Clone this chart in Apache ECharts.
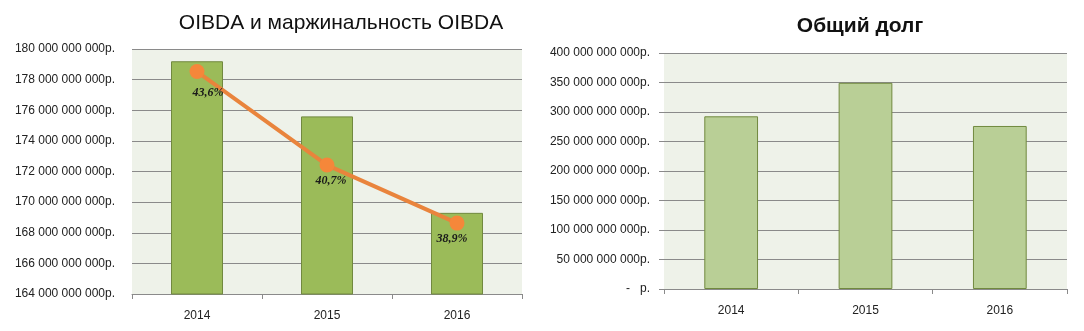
<!DOCTYPE html>
<html>
<head>
<meta charset="utf-8">
<script src="https://cdn.jsdelivr.net/npm/echarts@6/dist/echarts.min.js"></script>
<style>
  html, body { margin: 0; padding: 0; background: #ffffff; }
  #chart { width: 1084px; height: 331px; }
</style>
</head>
<body>
<div id="chart"></div>
<script>
// Years shown on both category axes
const years = ['2014', '2015', '2016'];
// OIBDA, roubles
const oibda = [179.2e9, 175.6e9, 169.3e9];
// OIBDA margin, percent
const margin = [43.6, 40.7, 38.9];
// Total debt, roubles
const totalDebt = [292.7e9, 349.5e9, 276.3e9];

const leftTitle = 'OIBDA и маржинальность OIBDA';
const rightTitle = 'Общий долг';

const FONT = '"Liberation Sans", Arial, sans-serif';
const GRID_LINE = '#8a8a8a';
const PLOT_BG = '#eef2e9';

function rub(v) {
  if (v === 0) return ' -   р.';
  return String(Math.round(v)).replace(/\B(?=(\d{3})+(?!\d))/g, ' ') + 'р.';
}

function pct(v) {
  return v.toFixed(1).replace('.', ',') + '%';
}

const chart = echarts.init(document.getElementById('chart'), null, { renderer: 'canvas' });

const catAxis = (gridIndex, labelMargin) => ({
  type: 'category',
  gridIndex,
  data: years,
  boundaryGap: true,
  axisLine: { show: true, lineStyle: { color: GRID_LINE, width: 1 } },
  axisTick: { show: true, length: 5, lineStyle: { color: GRID_LINE } },
  axisLabel: { color: '#222', fontFamily: FONT, fontSize: 12, margin: labelMargin }
});

// per-point nudges for the margin labels
const labelOffsets = [[11, 6], [4, 0], [-5, 0]];

chart.setOption({
  animation: false,
  backgroundColor: '#ffffff',
  title: [
    {
      text: leftTitle,
      left: 336, top: 8, textAlign: 'center',
      textStyle: { fontFamily: FONT, fontSize: 21, fontWeight: 'normal', color: '#111' }
    },
    {
      text: rightTitle,
      left: 855, top: 11, textAlign: 'center',
      textStyle: { fontFamily: FONT, fontSize: 21, fontWeight: 'bold', color: '#111' }
    }
  ],
  grid: [
    { left: 132, right: 562, top: 49, bottom: 37, show: true, backgroundColor: PLOT_BG, borderWidth: 0 },
    { left: 664, right: 17, top: 53, bottom: 42, show: true, backgroundColor: PLOT_BG, borderWidth: 0 }
  ],
  xAxis: [catAxis(0, 16), catAxis(1, 16)],
  yAxis: [
    {
      type: 'value', gridIndex: 0,
      min: 164e9, max: 180e9, interval: 2e9,
      axisLine: { show: false }, axisTick: { show: false },
      splitLine: { show: true, lineStyle: { color: GRID_LINE, width: 1 } },
      axisLabel: { formatter: rub, color: '#222', fontFamily: FONT, fontSize: 12, margin: 17 }
    },
    {
      type: 'value', gridIndex: 0,
      min: 36.7, max: 44.3,
      show: false, splitLine: { show: false }
    },
    {
      type: 'value', gridIndex: 1,
      min: 0, max: 400e9, interval: 50e9,
      axisLine: { show: false },
      axisTick: { show: true, length: 5, lineStyle: { color: GRID_LINE } },
      splitLine: { show: true, lineStyle: { color: GRID_LINE, width: 1 } },
      axisLabel: { formatter: rub, color: '#222', fontFamily: FONT, fontSize: 12, margin: 14 }
    }
  ],
  series: [
    {
      name: 'OIBDA', type: 'bar',
      xAxisIndex: 0, yAxisIndex: 0,
      data: oibda, barWidth: '40%',
      itemStyle: { color: '#9bbb59', borderColor: '#71893f', borderWidth: 1 }
    },
    {
      name: 'Маржинальность OIBDA', type: 'line',
      xAxisIndex: 0, yAxisIndex: 1,
      data: margin.map((v, i) => ({
        value: v,
        label: { offset: labelOffsets[i] }
      })),
      symbol: 'circle', symbolSize: 15,
      lineStyle: { color: '#e9843c', width: 4 },
      itemStyle: { color: '#f5873a' },
      label: {
        show: true, position: 'bottom', distance: 2,
        formatter: p => pct(p.value),
        fontFamily: '"Liberation Serif", "Times New Roman", serif',
        fontStyle: 'italic', fontWeight: 'bold', fontSize: 12, color: '#1a1a1a'
      },
      z: 5
    },
    {
      name: 'Общий долг', type: 'bar',
      xAxisIndex: 1, yAxisIndex: 2,
      data: totalDebt, barWidth: '40%',
      itemStyle: { color: '#b9cf96', borderColor: '#71893f', borderWidth: 1 }
    }
  ]
});
</script>
</body>
</html>
